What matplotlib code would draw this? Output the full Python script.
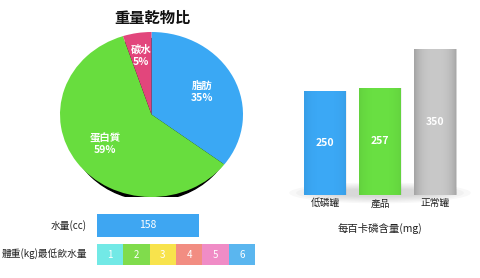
import matplotlib
matplotlib.use('Agg')
import matplotlib.pyplot as plt
from matplotlib.patches import Ellipse
import numpy as np

plt.rcParams['font.family'] = ['Noto Sans CJK TC', 'DejaVu Sans']

# data
pie_labels = ['脂肪', '蛋白質', '碳水']
pie_values = [35, 59, 5]
pie_colors = ['#3aa8f4', '#68dd3e', '#e2467c']

bar_labels = ['低磷罐', '產品', '正常罐']
bar_values = [250, 257, 350]
bar_colors = ['#3ba8f5', '#69df42', '#c8c8c8']

water_cc = 158
water_max = 245
weight_kg = [1, 2, 3, 4, 5, 6]
weight_colors = ['#72e9e6', '#80dc4c', '#f8e34c', '#f28d82', '#f08cc6', '#5ab6ef']

W, H = 480, 278
fig = plt.figure(figsize=(W / 100, H / 100), dpi=100)

def box(x0, y0, x1, y1):
    # pixel box (top-down) -> figure fraction
    return [x0 / W, 1 - y1 / H, (x1 - x0) / W, (y1 - y0) / H]

# ---- pie
fig.text(152 / W, 1 - 18 / H, '重量乾物比', ha='center', va='center',
         fontsize=11, fontweight='bold', color='#111111')
ax = fig.add_axes(box(60, 32, 243, 197))
ax.add_patch(Ellipse((0, -0.06), 1.86, 1.96, color='#000000', zorder=0))
wedges, _ = ax.pie(pie_values, colors=pie_colors, startangle=90, counterclock=False,
                   radius=1, wedgeprops=dict(linewidth=0))
for w in wedges:
    w.set_zorder(1)
ang0 = 90
for lab, v in zip(pie_labels, pie_values):
    mid = np.deg2rad(ang0 - v / sum(pie_values) * 180)
    ang0 -= v / sum(pie_values) * 360
    r = 0.62 if v > 10 else 0.72
    ax.text(r * np.cos(mid), r * np.sin(mid), f'{lab}\n{v}%', ha='center', va='center',
            color='white', fontsize=7.5, fontweight='bold', linespacing=1.25, zorder=3)
ax.set_aspect('auto')
ax.set_xlim(-1, 1)
ax.set_ylim(-1, 1)
ax.axis('off')

# ---- bars
bx = fig.add_axes(box(297.5, 28, 462.5, 195))
bx.set_xlim(-0.5, 2.5)
bx.set_ylim(0, 400)
bx.axis('off')
for k in range(6):
    bx.add_patch(Ellipse((1.0, 5), 3.3 - k * 0.25, 50 - k * 6, color='#888888',
                         alpha=0.06, linewidth=0, zorder=0, clip_on=False))
x = np.arange(len(bar_values))
bars = bx.bar(x, bar_values, width=0.78, color=bar_colors, zorder=2, linewidth=0)
t = np.linspace(-1, 1, 60)
for b, strength in zip(bars, [0.06, 0.06, 0.18]):
    shade = np.zeros((1, 60, 4))
    shade[0, :, 3] = strength * np.abs(t) ** 3
    im = bx.imshow(shade, extent=(b.get_x(), b.get_x() + b.get_width(), 0, b.get_height()),
                   aspect='auto', zorder=3, interpolation='bilinear')
    im.set_clip_path(b)
bx.set_xlim(-0.5, 2.5)
bx.set_ylim(0, 400)
for xi, v in zip(x, bar_values):
    bx.text(xi, v / 2, str(v), ha='center', va='center', color='white',
            fontsize=7.5, fontweight='bold', zorder=4)
    bx.text(xi, -20, bar_labels[xi], ha='center', va='center', color='#222222',
            fontsize=7, clip_on=False)
fig.text(380 / W, 1 - 228 / H, '每百卡磷含量(mg)', ha='center', va='center',
         fontsize=7.5, color='#222222')

# ---- water bar
wx = fig.add_axes(box(97, 214, 255, 237))
wx.set_xlim(0, water_max)
wx.set_ylim(0, 1)
wx.axis('off')
wx.barh(0.5, water_cc, height=1, color='#3ea6f2', linewidth=0)
wx.text(water_cc / 2, 0.5, str(water_cc), ha='center', va='center', color='white', fontsize=7.5)
fig.text(87 / W, 1 - 226 / H, '水量(cc)', ha='right', va='center', fontsize=7, color='#222222')

sx = fig.add_axes(box(97, 244, 255, 265))
sx.set_xlim(0, len(weight_kg))
sx.set_ylim(0, 1)
sx.axis('off')
sx.barh([0.5] * len(weight_kg), [1] * len(weight_kg), left=np.arange(len(weight_kg)),
        height=1, color=weight_colors, linewidth=0)
for i, kg in enumerate(weight_kg):
    sx.text(i + 0.5, 0.5, str(kg), ha='center', va='center', color='white', fontsize=7)
fig.text(87 / W, 1 - 254 / H, '體重(kg)最低飲水量', ha='right', va='center', fontsize=7, color='#222222')

fig.savefig('out.png', dpi=100)
